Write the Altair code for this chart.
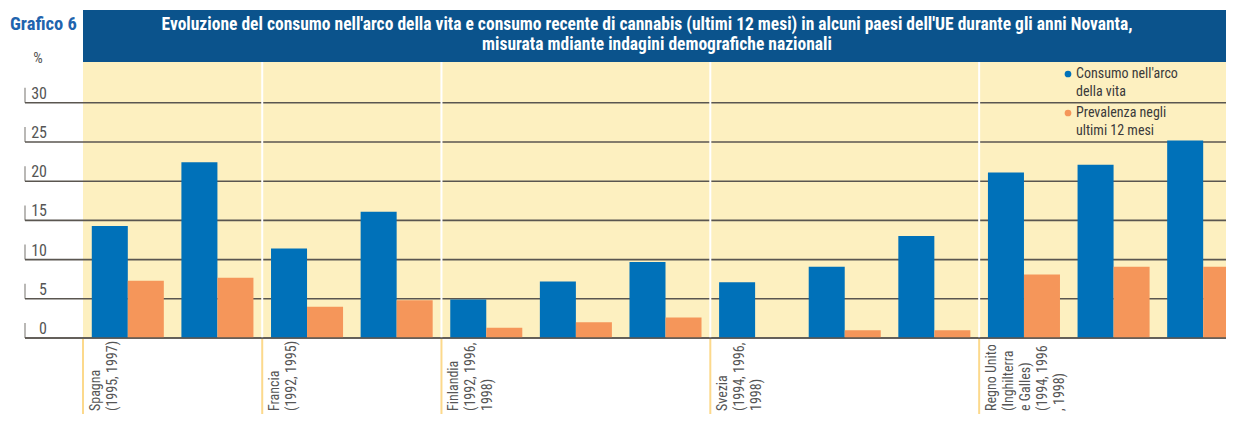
import altair as alt
import pandas as pd

# ---------------- data ----------------
surveys = ["Spagna 1995", "Spagna 1997", "Francia 1992", "Francia 1995",
           "Finlandia 1992", "Finlandia 1996", "Finlandia 1998",
           "Svezia 1994", "Svezia 1996", "Svezia 1998",
           "Regno Unito 1994", "Regno Unito 1996", "Regno Unito 1998"]
lifetime = [14.3, 22.4, 11.4, 16.1, 4.9, 7.2, 9.7, 7.1, 9.1, 13.0, 21.1, 22.1, 25.2]
last12 = [7.3, 7.7, 4.0, 4.8, 1.3, 2.0, 2.6, None, 1.0, 1.0, 8.1, 9.1, 9.1]
series = ["Consumo nell'arco della vita", "Prevalenza negli ultimi 12 mesi"]
legend_lines = ["Consumo nell'arco\ndella vita", "Prevalenza negli\nultimi 12 mesi"]
group_first = ["Spagna 1995", "Francia 1992", "Finlandia 1992", "Svezia 1994", "Regno Unito 1994"]
group_labels = ["Spagna\n(1995, 1997)", "Francia\n(1992, 1995)",
                "Finlandia\n(1992, 1996,\n1998)", "Svezia\n(1994, 1996,\n1998)",
                "Regno Unito\n(Inghilterra\ne Galles)\n(1994, 1996\n, 1998)"]
y_ticks = [0, 5, 10, 15, 20, 25, 30]
fig_label = "Grafico 6"
title_lines = ["Evoluzione del consumo nell'arco della vita e consumo recente di cannabis (ultimi 12 mesi) in alcuni paesi dell'UE durante gli anni Novanta,",
               "misurata mdiante indagini demografiche nazionali"]
unit_label = "%"

# ---------------- styling ----------------
W, H = 1143, 276
FONT = "Liberation Sans Narrow, Roboto Condensed, DejaVu Sans Condensed, Arial Narrow, sans-serif"
BLUE, ORANGE = "#0071b9", "#f5965a"
HEADER = "#0b538c"
GRID = "#5a5650"
TXT = "#555555"

rows = []
for s, a, b in zip(surveys, lifetime, last12):
    rows.append({"survey": s, "series": series[0], "value": a})
    if b is not None:
        rows.append({"survey": s, "series": series[1], "value": b})
bars_df = pd.DataFrame(rows)

x_scale = alt.Scale(domain=surveys, range=[0, 1165], paddingInner=0, paddingOuter=0)
y_scale = alt.Scale(domain=[0, 35.2], nice=False, zero=True)
c_scale = alt.Scale(domain=series, range=[BLUE, ORANGE])

one = pd.DataFrame({"k": [0]})
ticks_df = pd.DataFrame({"v": y_ticks})
groups_df = pd.DataFrame({"survey": group_first, "label": group_labels})
sep_df = pd.DataFrame({"survey": group_first[1:]})

header = alt.Chart(one).mark_rect(color=HEADER).encode(
    x=alt.value(0), x2=alt.value(W + 20), y=alt.value(-52), y2=alt.value(0))

t1 = alt.Chart(pd.DataFrame({"t": [title_lines[0]]})).mark_text(
    font=FONT, fontSize=17.5, fontWeight="bold", color="white", align="center", baseline="middle"
).encode(text="t:N", x=alt.value(564), y=alt.value(-37))
t2 = alt.Chart(pd.DataFrame({"t": [title_lines[1]]})).mark_text(
    font=FONT, fontSize=17.5, fontWeight="bold", color="white", align="center", baseline="middle"
).encode(text="t:N", x=alt.value(574), y=alt.value(-17))

fig = alt.Chart(pd.DataFrame({"t": [fig_label]})).mark_text(
    font=FONT, fontSize=18.5, fontWeight="bold", color="#1f64ae", align="left", baseline="middle"
).encode(text="t:N", x=alt.value(-73), y=alt.value(-38))

unit = alt.Chart(pd.DataFrame({"t": [unit_label]})).mark_text(
    font=FONT, fontSize=15, color=TXT, align="center", baseline="middle"
).encode(text="t:N", x=alt.value(-45), y=alt.value(-4))

grid = alt.Chart(ticks_df).mark_rule(color=GRID, strokeWidth=1.6).encode(
    y=alt.Y("v:Q", scale=y_scale, axis=None), x=alt.value(-58), x2=alt.value(W + 20))

tickmarks = alt.Chart(ticks_df).mark_tick(
    orient="vertical", color=GRID, size=15, thickness=1.2, yOffset=-7.5
).encode(y=alt.Y("v:Q", scale=y_scale, axis=None), x=alt.value(-58))

ticklabels = alt.Chart(ticks_df).mark_text(
    font=FONT, fontSize=16, color=TXT, align="right", baseline="alphabetic", dy=-4
).encode(y=alt.Y("v:Q", scale=y_scale, axis=None), x=alt.value(-36), text="v:Q")

white_sep = alt.Chart(sep_df).mark_rule(color="white", strokeWidth=2).encode(
    x=alt.X("survey:N", scale=x_scale, bandPosition=0, axis=None),
    y=alt.value(0), y2=alt.value(H))

orange_sep = alt.Chart(groups_df).mark_rule(color="#fcd98c", strokeWidth=2).encode(
    x=alt.X("survey:N", scale=x_scale, bandPosition=0, axis=None),
    y=alt.value(H + 1), y2=alt.value(H + 90))

bars = alt.Chart(bars_df).mark_bar().encode(
    x=alt.X("survey:N", scale=x_scale, axis=None),
    xOffset=alt.XOffset("series:N", scale=alt.Scale(domain=series, paddingInner=0, paddingOuter=0.244)),
    y=alt.Y("value:Q", scale=y_scale, axis=None),
    color=alt.Color("series:N", scale=c_scale, legend=None))

zero = alt.Chart(pd.DataFrame({"v": [0]})).mark_rule(color=GRID, strokeWidth=1.6).encode(
    y=alt.Y("v:Q", scale=y_scale, axis=None), x=alt.value(-58), x2=alt.value(W + 20))

cat_labels = alt.Chart(groups_df).mark_text(
    font=FONT, fontSize=14, color=TXT, angle=270, align="left", baseline="top",
    lineBreak="\n", lineHeight=17, xOffset=6
).encode(x=alt.X("survey:N", scale=x_scale, bandPosition=0, axis=None),
         y=alt.value(H + 73), text="label:N")

leg_layers = []
for i in range(2):
    ly = 12 + 39 * i
    leg_layers.append(alt.Chart(pd.DataFrame({"series": [series[i]]})).mark_point(
        filled=True, size=45, opacity=1, shape="circle").encode(
        x=alt.value(985), y=alt.value(ly), color=alt.Color("series:N", scale=c_scale, legend=None)))
    leg_layers.append(alt.Chart(pd.DataFrame({"t": [legend_lines[i]]})).mark_text(
        font=FONT, fontSize=14, color="#3a3a3a", align="left", baseline="middle",
        lineBreak="\n", lineHeight=18).encode(
        x=alt.value(993), y=alt.value(ly), text="t:N"))

chart = alt.layer(
    header, t1, t2, fig, unit, grid, tickmarks, ticklabels, white_sep, orange_sep,
    bars, zero, cat_labels, *leg_layers
).properties(
    width=W, height=H,
    autosize=alt.AutoSizeParams(type="none"),
    padding={"left": 75, "top": 54, "right": 0, "bottom": 76},
).configure_view(fill="#fdf0c0", stroke=None)

chart.save("out.html", embed_options={"renderer": "svg", "actions": False})
